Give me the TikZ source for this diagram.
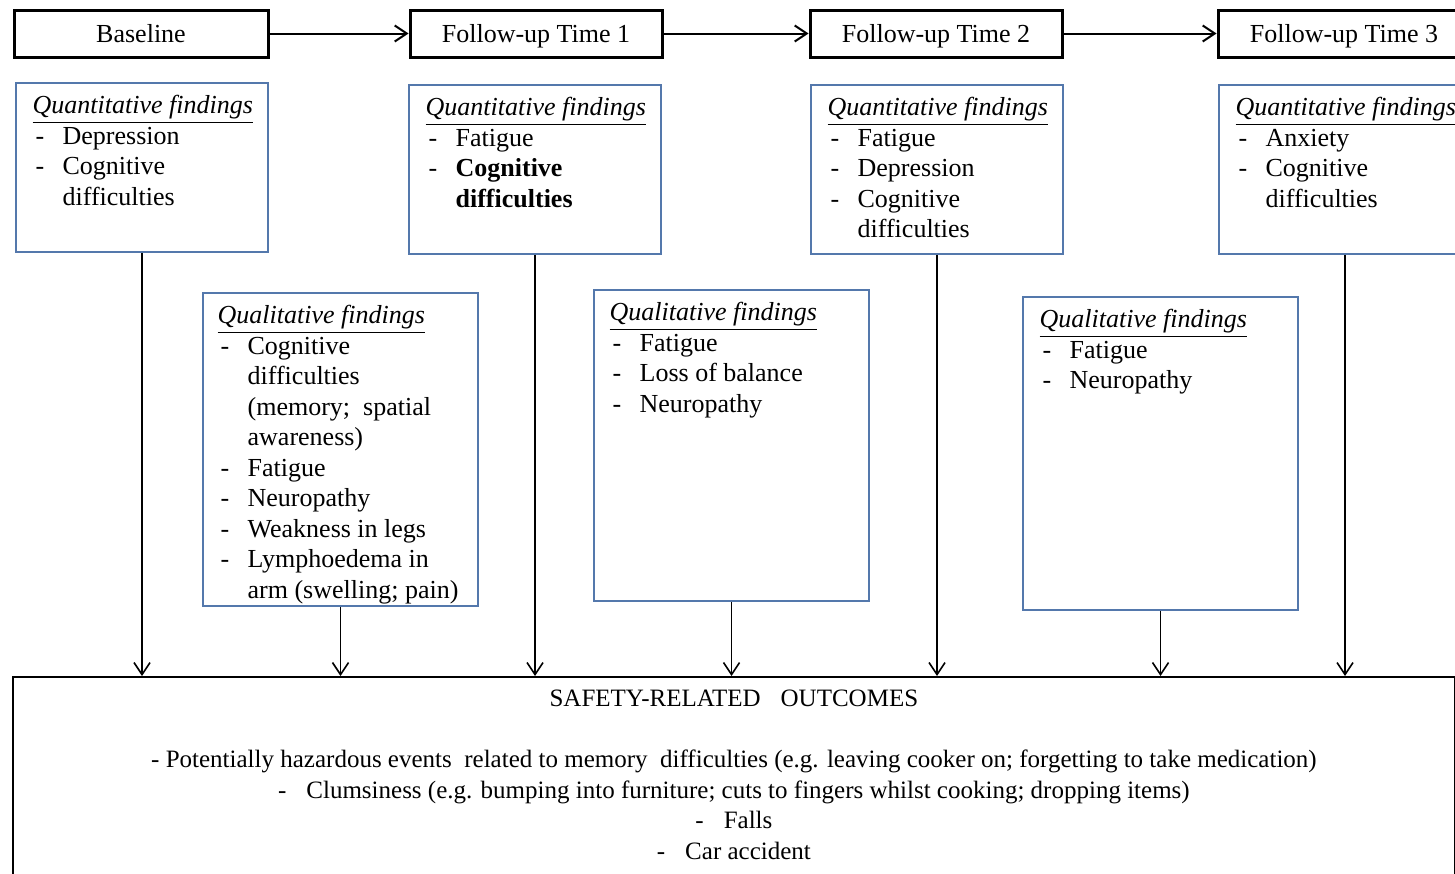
\documentclass[tikz,border=0pt]{standalone}
\usepackage{fontspec}
\setmainfont{Liberation Serif}
\usetikzlibrary{arrows.meta,positioning}
\definecolor{findblue}{RGB}{84,120,172}
\newcommand{\findtitle}[1]{\underline{\textit{#1}}}
\newcommand{\itm}{\makebox[15pt][l]{\hspace{1.5pt}-}}
\newcommand{\cont}{\hspace*{15pt}}

\begin{document}
\begin{tikzpicture}[x=0.5pt,y=-0.5pt,
    every node/.style={font=\fontsize{13}{15.25}\selectfont},
    stage/.style={draw,line width=1.5pt,minimum width=126pt,minimum height=23.5pt,inner sep=0pt,
        text height=10pt,text depth=1pt},
    finding/.style={draw=findblue,line width=0.75pt,minimum width=126pt,inner sep=0pt},
    findtext/.style={align=left,inner sep=0pt},
    flow/.style={-{Straight Barb[length=6pt,width=8pt]},line width=0.8pt}]
    \useasboundingbox (0,0) rectangle (1455,873);
    \clip (0,0) rectangle (1455,873);

    % time points
    \node[stage,minimum width=127pt] (base) at (141,33.5) {Baseline};
    \node[stage] (fu1) at (536,33.5) {Follow-up Time 1};
    \node[stage] (fu2) at (936,33.5) {Follow-up Time 2};
    \node[stage] (fu3) at (1344,33.5) {Follow-up Time 3};

    % quantitative findings
    \node[finding,minimum height=84.5pt] (q0) at (142,167.5) {};
    \node[finding,minimum height=84.5pt] (q1) at (535,169.5) {};
    \node[finding,minimum height=84.5pt] (q2) at (937,169.5) {};
    \node[finding,minimum height=84.5pt] (q3) at (1345,169.5) {};

    % qualitative findings
    \node[finding,minimum width=137.5pt,minimum height=156.5pt] (l1) at (340.5,449.5) {};
    \node[finding,minimum width=137.5pt,minimum height=155.5pt] (l2) at (731.5,445.5) {};
    \node[finding,minimum width=137.5pt,minimum height=156.5pt] (l3) at (1160.5,453.5) {};

    \node[findtext,below right=6.5pt and 8.5pt of q0.north west] (q0txt) {\findtitle{Quantitative findings}\\
        \itm Depression\\
        \itm Cognitive\\
        \cont difficulties};
    \node[findtext,below right=6.5pt and 8.5pt of q1.north west] (q1txt) {\findtitle{Quantitative findings}\\
        \itm Fatigue\\
        \itm \textbf{Cognitive}\\
        \cont \textbf{difficulties}};
    \node[findtext,below right=6.5pt and 8.5pt of q2.north west] (q2txt) {\findtitle{Quantitative findings}\\
        \itm Fatigue\\
        \itm Depression\\
        \itm Cognitive\\
        \cont difficulties};
    \node[findtext,below right=6.5pt and 8.5pt of q3.north west] (q3txt) {\findtitle{Quantitative findings}\\
        \itm Anxiety\\
        \itm Cognitive\\
        \cont difficulties};

    \node[findtext,below right=6.5pt and 7.5pt of l1.north west] (l1txt) {\findtitle{Qualitative findings}\\
        \itm Cognitive\\
        \cont difficulties\\
        \cont (memory;\ \ spatial\\
        \cont awareness)\\
        \itm Fatigue\\
        \itm Neuropathy\\
        \itm Weakness in legs\\
        \itm Lymphoedema in\\
        \cont arm\ (swelling; pain)};
    \node[findtext,below right=6.5pt and 8pt of l2.north west] (l2txt) {\findtitle{Qualitative findings}\\
        \itm Fatigue\\
        \itm Loss of balance\\
        \itm Neuropathy};
    \node[findtext,below right=6.5pt and 8.5pt of l3.north west] (l3txt) {\findtitle{Qualitative findings}\\
        \itm Fatigue\\
        \itm Neuropathy};

    % outcomes
    \node[draw,line width=0.9pt,anchor=north west,minimum width=721pt,minimum height=125pt,inner sep=0pt] (out) at (12,676) {};
    \node[align=center,inner sep=0pt,below=7pt of out.north,font=\fontsize{12.5}{15.25}\selectfont] (outtxt) {SAFETY-RELATED\hspace{10pt}OUTCOMES\\[15.25pt]
        - Potentially hazardous events\ \ related to memory\ \ difficulties (e.g. leaving cooker on; forgetting to take medication)\\
        -\hspace{10pt}Clumsiness (e.g. bumping into furniture; cuts to fingers whilst cooking; dropping items)\\
        -\hspace{10pt}Falls\\
        -\hspace{10pt}Car accident};

    \draw[flow,line width=1pt] (base) -- (fu1);
    \draw[flow,line width=1pt] (fu1) -- (fu2);
    \draw[flow,line width=1pt] (fu2) -- (fu3);
    \foreach \b in {q0,l1,q1,l2,q2,l3,q3}
        \draw[flow] (\b) -- (\b |- out.north);
\end{tikzpicture}
\end{document}
